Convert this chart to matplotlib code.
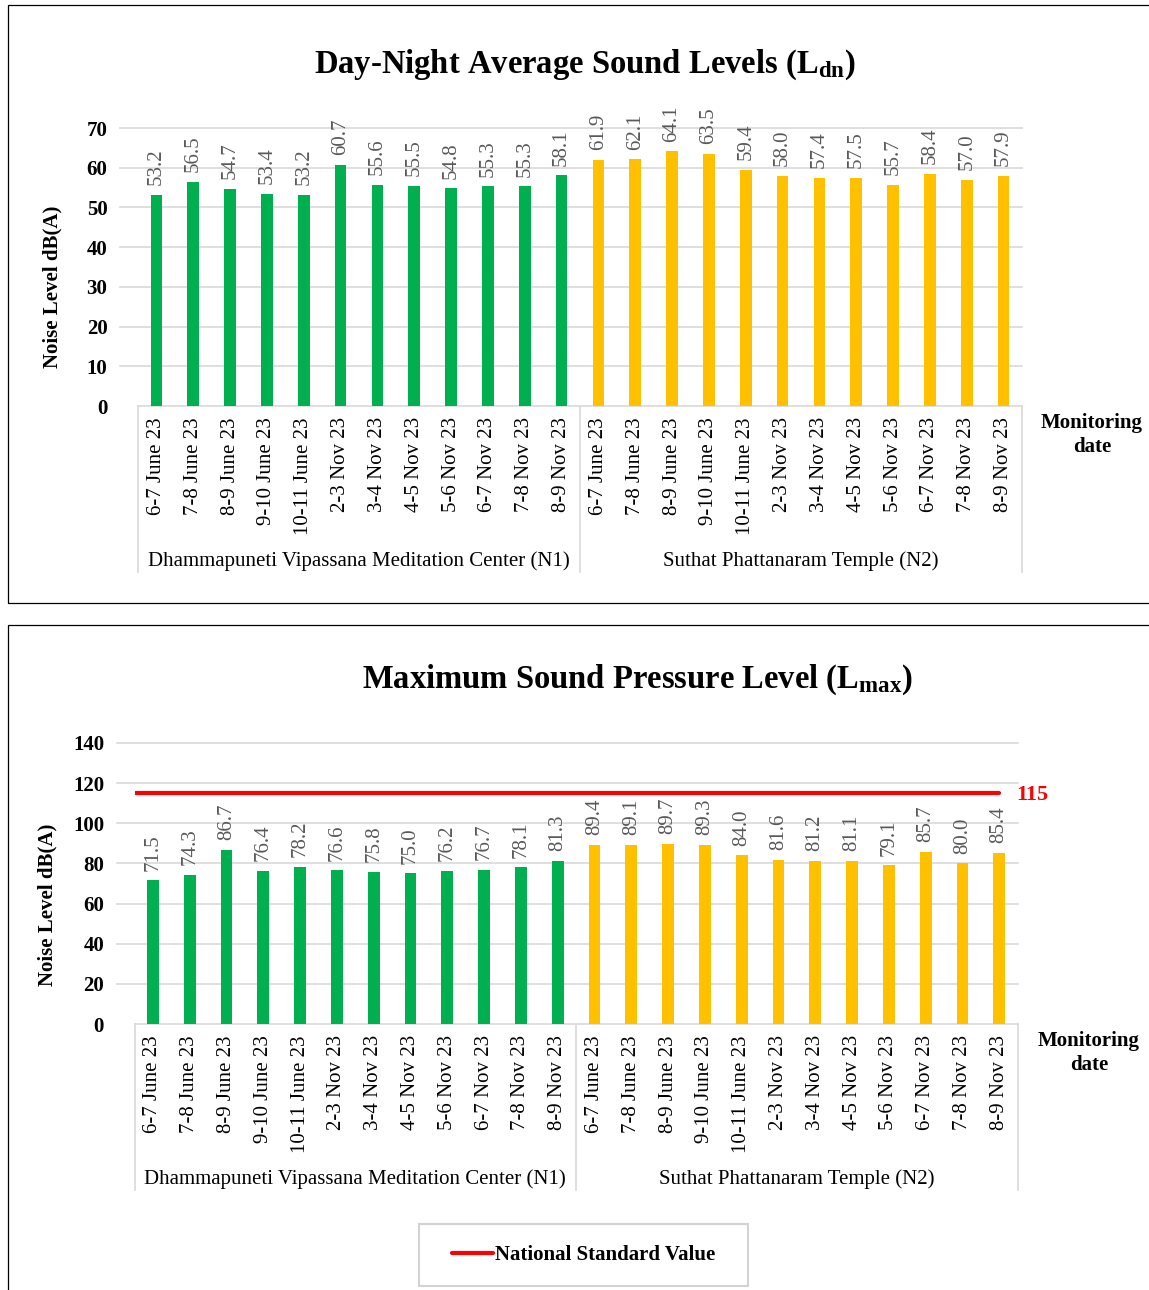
import numpy as np
import matplotlib
matplotlib.use('Agg')
import matplotlib.pyplot as plt
from matplotlib.patches import Rectangle
import matplotlib.transforms as mtransforms

plt.rcParams['font.family'] = ['Liberation Serif', 'DejaVu Serif']
plt.rcParams['mathtext.fontset'] = 'custom'
plt.rcParams['mathtext.bf'] = 'Liberation Serif:bold'
plt.rcParams['mathtext.rm'] = 'Liberation Serif:bold'
plt.rcParams['mathtext.default'] = 'bf'

# monitoring dates for each site
dates_n1 = ['6-7 June 23', '7-8 June 23', '8-9 June 23', '9-10 June 23', '10-11 June 23',
            '2-3 Nov 23', '3-4 Nov 23', '4-5 Nov 23', '5-6 Nov 23', '6-7 Nov 23',
            '7-8 Nov 23', '8-9 Nov 23']
dates_n2 = list(dates_n1)
sites = ['Dhammapuneti Vipassana Meditation Center (N1)', 'Suthat Phattanaram Temple (N2)']

# Ldn values
ldn_n1 = [53.2, 56.5, 54.7, 53.4, 53.2, 60.7, 55.6, 55.5, 54.8, 55.3, 55.3, 58.1]
ldn_n2 = [61.9, 62.1, 64.1, 63.5, 59.4, 58.0, 57.4, 57.5, 55.7, 58.4, 57.0, 57.9]

# Lmax values
lmax_n1 = [71.5, 74.3, 86.7, 76.4, 78.2, 76.6, 75.8, 75.0, 76.2, 76.7, 78.1, 81.3]
lmax_n2 = [89.4, 89.1, 89.7, 89.3, 84.0, 81.6, 81.2, 81.1, 79.1, 85.7, 80.0, 85.4]

national_standard = 115

GREEN = '#00B050'
YELLOW = '#FFC000'
GRID = '#D9D9D9'
LABEL_GRAY = '#595959'

W, H = 1149, 1290
fig = plt.figure(figsize=(W / 100, H / 100), dpi=100)

# panel frames
fig.add_artist(Rectangle((8 / W, 1 - 603 / H), 1.2, 598 / H, transform=fig.transFigure,
                         fill=False, edgecolor='black', linewidth=0.9))
fig.add_artist(Rectangle((8 / W, -0.1), 1.2, 1 - 625 / H + 0.1, transform=fig.transFigure,
                         fill=False, edgecolor='black', linewidth=0.9))


def draw_panel(ax, v1, v2, ymax, ystep, grid_left_frac, sep_depth):
    labels = dates_n1 + dates_n2
    values = v1 + v2
    n = len(values)
    x = np.arange(n)
    colors = [GREEN] * len(v1) + [YELLOW] * len(v2)
    ax.bar(x, values, width=0.32, color=colors, zorder=3)
    for xi, v in zip(x, values):
        ax.annotate(f'{v:.1f}', (xi, v), xytext=(0, 7), textcoords='offset points',
                    rotation=90, ha='center', va='bottom', fontsize=15,
                    color=LABEL_GRAY, annotation_clip=False)
    ax.set_xlim(-0.5, n - 0.5)
    ax.set_ylim(0, ymax)
    ticks = np.arange(0, ymax + 1, ystep)
    ax.set_yticks(ticks)
    ax.set_yticklabels([str(t) for t in ticks], fontsize=15, fontweight='bold')
    ax.tick_params(axis='y', length=0, pad=22)
    ax.set_xticks(x)
    ax.set_xticklabels(labels, rotation=90, fontsize=15, va='top')
    ax.tick_params(axis='x', length=0, pad=8)
    for s in ['top', 'right', 'left']:
        ax.spines[s].set_visible(False)
    ax.spines['bottom'].set_color(GRID)
    ax.spines['bottom'].set_linewidth(1.2)
    trans = mtransforms.blended_transform_factory(ax.transAxes, ax.transData)
    for t in ticks[1:]:
        ax.plot([-grid_left_frac, 1], [t, t], color=GRID, linewidth=1.2,
                transform=trans, clip_on=False, zorder=1)
    # group separators and site names
    trans2 = mtransforms.blended_transform_factory(ax.transData, ax.transAxes)
    for xs in [-0.5, len(v1) - 0.5, n - 0.5]:
        ax.plot([xs, xs], [0, -sep_depth], color=GRID, linewidth=1.2,
                transform=trans2, clip_on=False)
    ax.text((len(v1) - 1) / 2, -sep_depth + 0.04, sites[0], transform=trans2,
            ha='center', va='center', fontsize=15)
    ax.text(len(v1) + (len(v2) - 1) / 2, -sep_depth + 0.04, sites[1], transform=trans2,
            ha='center', va='center', fontsize=15)


# top panel: Ldn
ax1 = fig.add_axes([138 / W, 1 - 406 / H, 884 / W, 278 / H])
draw_panel(ax1, ldn_n1, ldn_n2, 70, 10, 18 / 884, 166 / 278)
fig.text(585 / W, 1 - 65 / H, r'Day-Night Average Sound Levels (L$_{dn}$)',
         ha='center', va='center', fontsize=23.5, fontweight='bold')
fig.text(52 / W, 1 - 287 / H, 'Noise Level dB(A)', rotation=90, ha='center',
         va='center', fontsize=15, fontweight='bold')
fig.text(1092 / W, 1 - 435 / H, 'Monitoring\ndate', ha='center', va='center',
         fontsize=15, fontweight='bold', linespacing=1.25)

# bottom panel: Lmax
ax2 = fig.add_axes([134.6 / W, 1 - 1024 / H, 883 / W, 281 / H])
draw_panel(ax2, lmax_n1, lmax_n2, 140, 20, 18 / 883, 166 / 281)
n_all = len(lmax_n1) + len(lmax_n2)
ax2.plot([-0.5, n_all - 1], [national_standard] * 2, color='#FF0000', linewidth=3,
         solid_capstyle='round', zorder=4, label='National Standard Value')
ax2.annotate(str(national_standard), (n_all - 1, national_standard), xytext=(12, -1),
             textcoords='offset points', ha='left', va='center', fontsize=16,
             fontweight='bold', color='#FF0000', annotation_clip=False)
fig.text(637 / W, 1 - 680 / H, r'Maximum Sound Pressure Level (L$_{max}$)',
         ha='center', va='center', fontsize=23.5, fontweight='bold')
fig.text(47 / W, 1 - 905 / H, 'Noise Level dB(A)', rotation=90, ha='center',
         va='center', fontsize=15, fontweight='bold')
fig.text(1089 / W, 1 - 1053 / H, 'Monitoring\ndate', ha='center', va='center',
         fontsize=15, fontweight='bold', linespacing=1.25)

handles, lbls = ax2.get_legend_handles_labels()
leg = fig.legend(handles, lbls, loc='center', bbox_to_anchor=(583.5 / W, 1 - 1255 / H),
                 prop={'weight': 'bold', 'size': 15}, fancybox=False,
                 edgecolor='#C8C8C8', handlelength=2.0, handletextpad=0.1,
                 borderpad=1.0, borderaxespad=0)
leg.get_frame().set_linewidth(1.5)
leg._legend_box.set_width(288)

fig.savefig('out.png', dpi=100)
